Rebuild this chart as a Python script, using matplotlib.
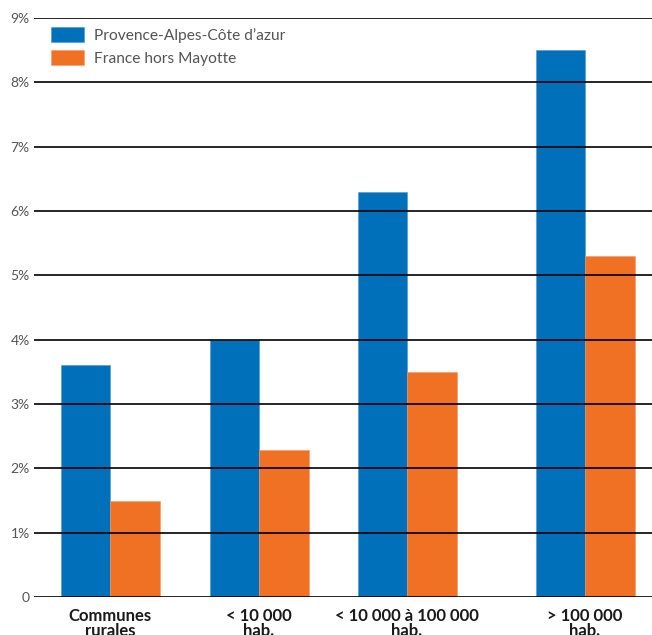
import matplotlib
matplotlib.use("Agg")
import matplotlib.pyplot as plt

categories = ["Communes\nrurales", "< 10 000\nhab.", "< 10 000 à 100 000\nhab.", "> 100 000\nhab."]
paca = [3.6, 4.0, 6.3, 8.5]
france = [1.5, 2.28, 3.5, 5.3]
y_ticks = [0, 1, 2, 3, 4, 5, 6, 7, 8, 9]
y_labels = ["0", "1%", "2%", "3%", "4%", "5%", "6%", "7%", "8%", "9%"]

BLUE = "#0070bb"
ORANGE = "#f07024"

plt.rcParams["font.family"] = ["Lato", "DejaVu Sans"]

fig = plt.figure(figsize=(6.52, 6.35), dpi=100)
ax = fig.add_axes([34 / 652, 38 / 635, 618 / 652, 579 / 635])

# group centres in pixel units from the axes' left edge (uneven in the original)
centres = [76, 225, 373, 551]
w = 49.5
ax.bar([c - w / 2 for c in centres], paca, w, color=BLUE, edgecolor="#4c98d0",
       linewidth=0.4, label="Provence-Alpes-Côte d’azur", zorder=2)
ax.bar([c + w / 2 for c in centres], france, w, color=ORANGE, edgecolor="#f49a66",
       linewidth=0.4, label="France hors Mayotte", zorder=2)

ax.set_xlim(0, 618)
ax.set_ylim(0, 9)
ax.set_yticks(y_ticks)
ax.set_yticklabels(y_labels, color="#555555", fontsize=10)
ax.set_xticks(centres)
ax.set_xticklabels(categories, fontsize=12, fontweight="bold", color="#1a1a1a",
                   linespacing=0.9)
ax.tick_params(axis="both", length=0)
ax.tick_params(axis="y", pad=3)
ax.tick_params(axis="x", pad=8)
for s in ax.spines.values():
    s.set_visible(False)
ax.yaxis.grid(True, color="black", linewidth=1.2, zorder=3)
ax.set_axisbelow(False)

leg = ax.legend(loc="upper left", bbox_to_anchor=(0.018, 0.996), frameon=False,
                fontsize=11.2, handlelength=2.1, handleheight=1.15,
                handletextpad=0.62, labelspacing=0.45, borderaxespad=0)
for t in leg.get_texts():
    t.set_color("#555555")

fig.savefig("out.png", dpi=100)
